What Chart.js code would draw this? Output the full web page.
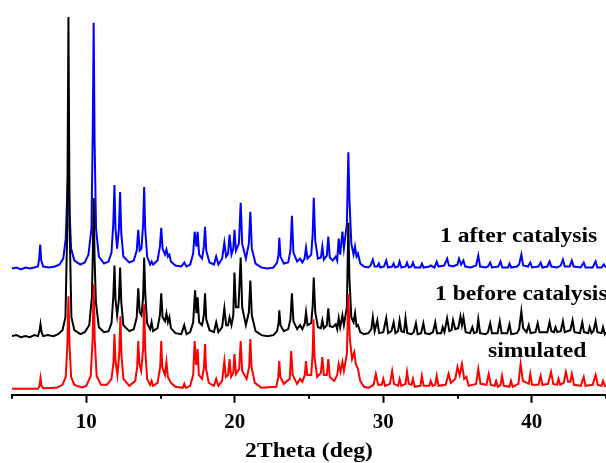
<!DOCTYPE html>
<html>
<head>
<meta charset="utf-8">
<script src="https://cdn.jsdelivr.net/npm/chart.js@4.4.1/dist/chart.umd.min.js"></script>
<style>
  html, body { margin: 0; padding: 0; background: #fff; }
  canvas { display: block; }
</style>
</head>
<body>
<canvas id="xrdChart" width="606" height="463"></canvas>
<script>
// 2theta (deg), intensity (a.u.) key points
const simulatedPts = [
  [5.0,0],[6.75,0],[6.85,3],[6.92,11],[6.99,3],[7.1,0.5],
  [8.0,1],[8.4,4],[8.62,12],[8.73,45],[8.8,93],[8.87,45],[8.98,12],[9.2,4],[9.7,1.5],
  [10.0,3],[10.3,13],[10.43,50],[10.5,105],[10.57,50],[10.7,13],[11.0,4],[11.4,4],
  [11.7,10],[11.83,26],[11.9,55],[11.97,28],[12.1,14],[12.22,35],[12.3,73],[12.37,34],[12.5,10],[12.9,3],
  [13.3,8],[13.43,22],[13.5,48],[13.58,25],[13.7,18],[13.83,40],[13.9,85],[13.97,40],[14.1,10],[14.3,4],[14.4,8],[14.5,3],[14.8,6],
  [14.98,22],[15.05,48],[15.12,22],[15.3,14],[15.4,27],[15.5,12],[15.7,6],[16.0,2],[16.5,1],[16.6,5],[16.7,1],
  [17.0,3],[17.2,14],[17.3,48],[17.4,24],[17.5,40],[17.58,14],[17.8,10],[17.93,22],[18.0,45],[18.07,20],[18.25,6],[18.6,3],[18.75,10],[18.9,3],
  [19.15,8],[19.3,28],[19.4,12],[19.55,14],[19.65,30],[19.75,12],[19.9,16],[19.98,35],[20.08,15],[20.3,20],[20.4,48],[20.5,18],[20.8,10],[20.97,22],[21.05,50],[21.13,22],[21.35,6],[21.8,1],
  [22.8,2],[22.93,12],[23.0,28],[23.07,12],[23.3,5],[23.7,10],[23.8,38],[23.9,14],[24.2,5],[24.4,10],[24.55,7],[24.72,14],[24.8,28],[24.88,14],
  [25.15,14],[25.25,36],[25.3,70],[25.37,32],[25.55,12],[25.8,16],[25.9,32],[26.0,14],[26.2,14],[26.3,30],[26.4,12],[26.7,8],[26.9,14],[27.0,25],[27.12,17],[27.25,27],[27.35,18],
  [27.55,35],[27.65,95],[27.75,50],[27.9,30],[28.05,37],[28.15,25],[28.3,20],[28.45,8],[28.7,2],
  [29.0,1],[29.35,4],[29.5,15],[29.65,4],[29.9,4],[30.0,10],[30.12,3],[30.45,5],[30.6,18],[30.72,5],[31.0,3],[31.1,10],[31.22,3],[31.5,5],[31.6,17],[31.72,5],
  [31.9,4],[32.0,10],[32.12,2],[32.5,3],[32.6,13],[32.72,3],[33.1,3],[33.2,8],[33.32,3],[33.5,4],[33.6,13],[33.72,3],[34.2,4],[34.4,15],[34.55,6],
  [34.85,10],[35.0,22],[35.15,14],[35.3,25],[35.45,10],[35.6,12],[35.75,3],[36.25,5],[36.4,20],[36.55,5],[36.95,4],[37.1,15],[37.25,4],[37.5,3],[37.6,8],[37.72,2],
  [37.9,4],[38.0,13],[38.12,3],[38.5,2],[38.6,8],[38.72,2],[39.1,5],[39.25,25],[39.4,8],[39.8,5],[39.9,15],[40.02,4],[40.45,4],[40.6,13],[40.72,4],
  [41.1,5],[41.3,17],[41.45,5],[41.7,4],[41.8,10],[41.92,4],[42.15,6],[42.3,17],[42.45,7],[42.6,7],[42.7,15],[42.85,4],[43.3,3],[43.5,12],[43.62,3],
  [44.1,4],[44.3,14],[44.45,4],[44.7,3],[44.8,8],[44.92,3],[45.0,2]
];

const beforePts = [
  [5.0,1],[5.3,2],[5.6,0],[5.9,1],[6.2,0],[6.5,2],[6.75,1],[6.85,6],[6.92,13],[6.99,5],[7.1,1],[7.4,2],[7.8,1],
  [8.1,3],[8.4,7],[8.6,20],[8.72,110],[8.8,322],[8.88,110],[9.0,20],[9.2,7],[9.6,3],
  [9.9,5],[10.2,12],[10.38,40],[10.45,90],[10.5,140],[10.56,80],[10.65,35],[10.85,10],[11.2,5],[11.5,6],
  [11.7,14],[11.82,40],[11.9,72],[11.97,38],[12.08,22],[12.2,38],[12.28,70],[12.36,35],[12.5,12],[12.9,6],
  [13.2,8],[13.4,20],[13.5,49],[13.6,25],[13.72,22],[13.83,40],[13.9,80],[13.97,45],[14.1,14],[14.3,8],[14.4,15],[14.5,6],[14.8,9],
  [14.96,22],[15.05,44],[15.14,20],[15.3,16],[15.4,24],[15.5,15],[15.6,20],[15.7,9],[16.0,4],[16.4,3],[16.6,12],[16.75,3],
  [17.0,5],[17.2,15],[17.33,47],[17.42,24],[17.5,40],[17.6,15],[17.8,12],[17.92,22],[18.0,44],[18.08,18],[18.3,7],[18.6,5],[18.75,15],[18.9,5],
  [19.15,10],[19.3,29],[19.42,12],[19.55,12],[19.65,20],[19.78,12],[19.9,22],[19.98,65],[20.08,30],[20.25,30],[20.4,80],[20.5,30],[20.75,12],
  [20.95,25],[21.05,57],[21.15,22],[21.4,6],[21.8,2],[22.2,1],[22.6,2],
  [22.85,6],[22.95,14],[23.0,27],[23.08,12],[23.3,6],[23.6,8],[23.75,18],[23.85,44],[23.95,16],[24.2,8],[24.4,12],[24.55,8],[24.72,14],[24.8,25],[24.9,12],
  [25.15,14],[25.25,32],[25.32,60],[25.42,25],[25.6,10],[25.8,9],[25.9,17],[26.0,9],[26.2,12],[26.3,29],[26.4,11],[26.6,10],[26.8,13],[26.9,8],
  [27.0,19],[27.1,10],[27.25,22],[27.35,12],[27.55,30],[27.65,115],[27.72,60],[27.85,20],[28.0,15],[28.1,24],[28.2,11],[28.3,12],[28.45,5],[28.7,3],
  [29.0,4],[29.2,8],[29.3,20],[29.42,6],[29.6,17],[29.72,4],[30.0,5],[30.2,19],[30.33,4],[30.55,6],[30.7,15],[30.82,4],[31.0,6],[31.1,17],[31.22,6],
  [31.4,5],[31.5,19],[31.62,4],[31.9,3],[32.05,5],[32.2,14],[32.32,3],[32.55,4],[32.7,14],[32.82,4],[33.1,3],[33.35,5],[33.5,15],[33.62,4],
  [33.9,4],[34.0,10],[34.12,5],[34.3,19],[34.45,6],[34.6,7],[34.7,17],[34.85,8],[35.05,9],[35.2,21],[35.3,12],[35.4,20],[35.55,5],[35.85,4],[36.0,10],[36.12,4],
  [36.3,5],[36.4,18],[36.52,4],[36.9,3],[37.05,5],[37.2,14],[37.32,4],[37.7,4],[37.85,16],[37.97,4],[38.35,4],[38.5,13],[38.62,3],
  [39.0,4],[39.15,8],[39.3,26],[39.42,9],[39.65,5],[39.8,12],[39.92,4],[40.25,5],[40.4,14],[40.52,5],[41.05,5],[41.2,15],[41.32,6],[41.5,5],[41.6,10],[41.72,5],
  [41.95,6],[42.1,16],[42.22,5],[42.6,7],[42.75,17],[42.88,5],[43.25,4],[43.4,15],[43.52,5],[43.8,4],[43.9,10],[44.02,4],[44.15,6],[44.3,16],[44.42,5],
  [44.7,4],[44.8,10],[44.92,3],[45.0,5]
];

const afterPts = [
  [5.0,0],[5.3,1],[5.6,-1],[5.9,1],[6.2,0],[6.5,1],[6.75,2],[6.83,10],[6.9,24],[6.97,8],[7.1,2],[7.5,1],[7.9,2],
  [8.2,4],[8.45,10],[8.62,30],[8.73,80],[8.8,99],[8.87,60],[8.98,20],[9.2,8],[9.6,4],
  [9.9,6],[10.15,14],[10.35,40],[10.44,140],[10.5,247],[10.56,130],[10.66,40],[10.85,12],[11.2,5],[11.5,7],
  [11.7,16],[11.82,45],[11.9,84],[11.97,40],[12.08,20],[12.2,40],[12.28,77],[12.36,35],[12.5,12],[12.9,6],
  [13.2,8],[13.4,18],[13.5,39],[13.6,18],[13.72,20],[13.83,45],[13.9,82],[13.97,40],[14.1,12],[14.3,4],[14.4,7],[14.5,4],[14.8,8],
  [14.96,22],[15.05,41],[15.14,20],[15.3,14],[15.4,19],[15.5,12],[15.6,14],[15.7,7],[16.0,3],[16.4,2],[16.6,6],[16.75,2],
  [17.0,4],[17.2,15],[17.3,37],[17.42,22],[17.5,37],[17.6,14],[17.8,10],[17.92,22],[18.0,42],[18.08,18],[18.3,6],[18.6,4],[18.75,12],[18.9,4],
  [19.15,10],[19.3,26],[19.42,12],[19.55,15],[19.65,34],[19.78,14],[19.9,20],[19.98,39],[20.08,18],[20.28,25],[20.4,66],[20.5,25],[20.75,10],
  [20.95,25],[21.05,57],[21.15,20],[21.4,5],[21.8,1],[22.2,0],[22.6,1],
  [22.85,6],[22.95,14],[23.0,31],[23.08,12],[23.3,5],[23.6,6],[23.75,18],[23.85,53],[23.95,16],[24.2,7],[24.4,10],[24.55,6],[24.7,10],[24.8,21],[24.9,10],
  [25.15,14],[25.25,35],[25.32,71],[25.42,28],[25.6,10],[25.8,11],[25.9,22],[26.0,9],[26.2,13],[26.3,32],[26.4,11],[26.6,8],[26.8,12],[26.9,8],
  [27.0,30],[27.1,14],[27.25,37],[27.35,20],[27.55,45],[27.65,117],[27.72,70],[27.85,25],[28.0,14],[28.1,22],[28.2,12],[28.3,15],[28.45,5],[28.7,2],
  [29.0,1],[29.15,3],[29.3,9],[29.42,2],[29.6,2],[29.7,5],[29.8,1],[30.05,2],[30.2,8],[30.32,1],[30.6,2],[30.7,5],[30.8,1],[31.0,2],[31.1,7],[31.22,1],
  [31.5,2],[31.6,6],[31.72,1],[31.9,2],[32.0,6],[32.12,1],[32.5,1],[32.6,5],[32.72,1],[33.1,2],[33.2,3],[33.45,1],[33.6,7],[33.72,2],
  [34.1,3],[34.3,10],[34.42,3],[34.7,2],[35.0,4],[35.1,10],[35.25,4],[35.4,8],[35.52,2],[35.9,1],[36.25,3],[36.4,13],[36.52,2],
  [36.9,1],[37.05,2],[37.2,6],[37.32,1],[37.75,2],[37.9,7],[38.02,1],[38.4,1],[38.5,5],[38.62,1],[39.0,2],[39.15,4],[39.3,14],[39.42,3],
  [39.75,2],[39.9,6],[40.02,1],[40.45,2],[40.6,6],[40.72,1],[41.05,2],[41.2,7],[41.32,2],[41.7,1],[41.95,3],[42.1,9],[42.22,2],
  [42.55,2],[42.7,8],[42.82,2],[43.3,1],[43.5,6],[43.62,1],[44.1,1],[44.3,7],[44.42,1],[44.7,1],[44.85,4],[45.0,1]
];

// vertical stacking offsets (a.u.)
const offsets = { simulated: 6, before: 58, after: 127 };
const xTicks = [5, 10, 15, 20, 25, 30, 35, 40, 45];
const tickLabels = { 10: '10', 20: '20', 30: '30', 40: '40' };
const seriesLabels = [
  { text: '1 after catalysis', x: 440, y: 242 },
  { text: '1 before catalysis', x: 435, y: 300 },
  { text: 'simulated', x: 488, y: 357 }
];

const serif = '"Liberation Serif", "Times New Roman", serif';

function shift(pts, off) {
  return pts.map(p => ({ x: p[0], y: p[1] + off }));
}

const extras = {
  id: 'extras',
  afterDraw(chart) {
    const ctx = chart.ctx;
    const xs = chart.scales.x;
    const bottom = chart.chartArea.bottom;
    ctx.save();
    // minor ticks
    ctx.strokeStyle = '#000';
    ctx.lineWidth = 2;
    xTicks.filter(v => !tickLabels[v]).forEach(v => {
      const px = Math.round(xs.getPixelForValue(v));
      ctx.beginPath();
      ctx.moveTo(px, bottom);
      ctx.lineTo(px, bottom + 4);
      ctx.stroke();
    });
    // series names, slightly wide bold serif like the source
    ctx.fillStyle = '#000';
    ctx.font = 'bold 20px ' + serif;
    ctx.textBaseline = 'alphabetic';
    seriesLabels.forEach(l => {
      ctx.save();
      ctx.translate(l.x, l.y);
      ctx.scale(1.18, 1);
      ctx.fillText(l.text, 0, 0);
      ctx.restore();
    });
    // axis title
    ctx.save();
    ctx.font = 'bold 20px ' + serif;
    ctx.textAlign = 'center';
    ctx.translate((chart.chartArea.left + chart.chartArea.right) / 2, 457);
    ctx.scale(1.18, 1);
    ctx.fillText('2Theta (deg)', 0, 0);
    ctx.restore();
    ctx.restore();
  }
};

new Chart(document.getElementById('xrdChart'), {
  type: 'line',
  data: {
    datasets: [
      { label: 'simulated', data: shift(simulatedPts, offsets.simulated), borderColor: '#ff0000', order: 1 },
      { label: '1 before catalysis', data: shift(beforePts, offsets.before), borderColor: '#000000', order: 2 },
      { label: '1 after catalysis', data: shift(afterPts, offsets.after), borderColor: '#0000ff', order: 3 }
    ]
  },
  options: {
    responsive: false,
    animation: false,
    devicePixelRatio: 1,
    layout: { padding: { left: 12, right: 0, top: 0, bottom: 21 } },
    elements: {
      line: { borderWidth: 2, tension: 0, fill: false },
      point: { radius: 0 }
    },
    plugins: { legend: { display: false }, tooltip: { enabled: false } },
    scales: {
      x: {
        type: 'linear',
        min: 5,
        max: 45,
        afterBuildTicks: axis => { axis.ticks = xTicks.map(v => ({ value: v })); },
        afterFit: axis => { axis.paddingLeft = 0; axis.paddingRight = 0; },
        ticks: {
          autoSkip: false,
          maxRotation: 0,
          padding: 7,
          color: '#000',
          font: { family: serif, size: 21, weight: 'bold' },
          callback: v => tickLabels[v] || ''
        },
        grid: {
          drawOnChartArea: false,
          drawTicks: true,
          tickLength: 8,
          tickWidth: 2,
          tickColor: c => (c.tick && tickLabels[c.tick.value]) ? '#000' : 'rgba(0,0,0,0)'
        },
        border: { display: true, color: '#000', width: 2 }
      },
      y: {
        display: false,
        min: 0,
        max: 397
      }
    }
  },
  plugins: [extras]
});
</script>
</body>
</html>
